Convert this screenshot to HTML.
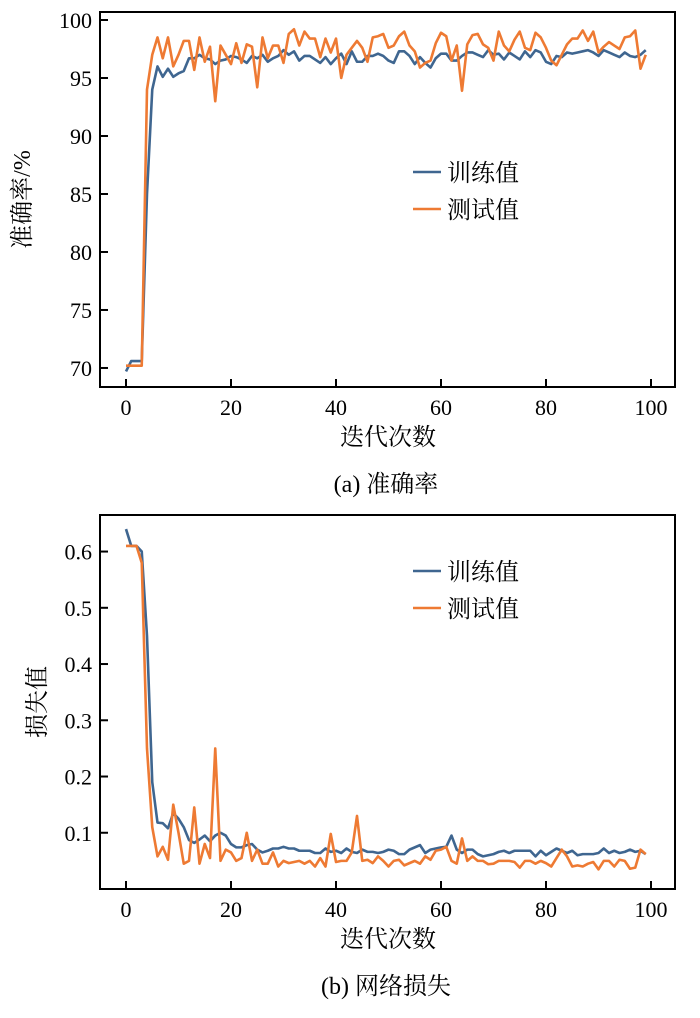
<!DOCTYPE html>
<html><head><meta charset="utf-8"><style>
body{margin:0;background:#fff;}
svg text{font-family:"Liberation Serif","Noto Serif CJK SC","Noto Sans CJK SC",serif;fill:#000;}
</style></head><body>
<svg id="fig" width="700" height="1013" viewBox="0 0 700 1013" xmlns="http://www.w3.org/2000/svg"></svg>
<script>
const epochs = Array.from({length:100},(_,i)=>i);
const trainAcc=[69.7,70.6,70.6,70.6,85,94,96,95.1,95.8,95.1,95.4,95.6,96.7,96.7,97,96.7,96.6,96.2,96.5,96.6,96.9,96.8,96.6,96.3,96.9,96.7,97,96.4,96.7,96.9,97.4,97,97.3,96.5,96.9,96.9,96.6,96.3,96.8,96.2,96.7,97.1,96.2,97.3,96.4,96.4,96.9,96.9,97.1,96.9,96.5,96.3,97.3,97.3,96.9,96.2,96.8,96.3,95.9,96.7,97.1,97.1,96.5,96.5,96.9,97.2,97.2,97.0,96.8,97.4,97.0,97.1,96.6,97.2,96.9,96.6,97.3,96.8,97.4,97.2,96.4,96.2,96.9,96.8,97.2,97.1,97.2,97.3,97.4,97.2,96.9,97.4,97.2,97.0,96.8,97.2,96.9,96.8,97.0,97.4];
const testAcc=[70.2,70.2,70.2,70.2,94,97,98.5,96.7,98.5,96,97,98.2,98.2,95.7,98.5,96.4,97.7,93,97.8,97,96.2,98,96.3,97.9,97.7,94.2,98.5,96.7,97.8,97.8,96.3,98.8,99.2,97.8,99,98.4,98.4,96.8,98.4,97.2,98.4,95,97,97.6,98.2,97.6,96.4,98.5,98.6,98.8,97.6,97.8,98.6,99,97.8,97.3,95.9,96.3,96.5,98,98.9,98.6,96.5,97.8,93.9,97.9,98.7,98.8,97.9,97.6,96.5,99,97.8,97.3,98.3,99,97.6,97.4,98.9,98.5,97.6,96.5,96.1,97,97.9,98.4,98.4,99.1,98.2,99,97.2,97.7,98.1,97.8,97.5,98.5,98.6,99.1,95.8,97];
const trainLoss=[0.64,0.61,0.61,0.6,0.45,0.19,0.118,0.117,0.108,0.135,0.125,0.11,0.087,0.082,0.088,0.095,0.085,0.095,0.1,0.095,0.08,0.074,0.074,0.078,0.08,0.07,0.065,0.068,0.072,0.072,0.075,0.072,0.072,0.068,0.068,0.068,0.064,0.064,0.072,0.066,0.068,0.064,0.072,0.066,0.064,0.07,0.066,0.066,0.064,0.066,0.07,0.068,0.062,0.062,0.07,0.074,0.078,0.064,0.07,0.072,0.074,0.075,0.095,0.07,0.064,0.07,0.07,0.062,0.058,0.06,0.062,0.066,0.068,0.064,0.068,0.068,0.068,0.068,0.058,0.068,0.06,0.066,0.072,0.068,0.064,0.068,0.06,0.062,0.062,0.062,0.064,0.072,0.064,0.068,0.064,0.066,0.07,0.066,0.068,0.062];
const testLoss=[0.61,0.61,0.61,0.58,0.25,0.11,0.058,0.075,0.052,0.15,0.1,0.045,0.05,0.145,0.045,0.08,0.055,0.25,0.05,0.07,0.065,0.05,0.055,0.1,0.05,0.07,0.045,0.045,0.065,0.04,0.05,0.046,0.048,0.05,0.045,0.05,0.04,0.055,0.04,0.098,0.048,0.05,0.05,0.065,0.13,0.05,0.052,0.046,0.058,0.05,0.04,0.05,0.052,0.042,0.046,0.05,0.045,0.058,0.052,0.068,0.07,0.075,0.05,0.045,0.09,0.05,0.058,0.05,0.05,0.044,0.045,0.05,0.05,0.05,0.048,0.038,0.05,0.05,0.045,0.05,0.046,0.04,0.055,0.07,0.058,0.04,0.042,0.04,0.045,0.048,0.035,0.05,0.05,0.04,0.052,0.05,0.036,0.038,0.07,0.062];
const xTicks=[0,20,40,60,80,100];
const accTicks=[70,75,80,85,90,95,100];
const lossTicks=[0.1,0.2,0.3,0.4,0.5,0.6];
const lossTickLabels=["0.1","0.2","0.3","0.4","0.5","0.6"];
const NS="http://www.w3.org/2000/svg";
const svg=document.getElementById('fig');
function mk(tag,attrs,parent){const e=document.createElementNS(NS,tag);for(const k in attrs)e.setAttribute(k,attrs[k]);(parent||svg).appendChild(e);return e;}
const BLUE="#3f6690", ORANGE="#ee7a33";
function panel(cfg){
  const g=mk('g',{});
  
  
  const L=100,R=675,T=cfg.top,B=cfg.bottom;
  const xs=v=>126+v*5.25;
  const ys=v=>B-(v-cfg.ymin)/(cfg.ymax-cfg.ymin)*(B-T);
  const frame=mk('rect',{x:L,y:T,width:R-L,height:B-T,fill:'none',stroke:'#000','stroke-width':2},g);
  
  
  xTicks.forEach(t=>{
    const x=xs(t);
    const tk=mk('line',{x1:x,x2:x,y1:B,y2:B-8,stroke:'#000','stroke-width':2},g);
    
    
    const tx=mk('text',{x:x,y:B+28,'text-anchor':'middle','font-size':22},g);
    tx.textContent=t;
    
    
  });
  cfg.ticks.forEach((t,i)=>{
    const y=ys(t);
    const tk=mk('line',{x1:L,x2:L+8,y1:y,y2:y,stroke:'#000','stroke-width':2},g);
    
    
    const tx=mk('text',{x:L-8,y:y+8,'text-anchor':'end','font-size':22},g);
    tx.textContent=cfg.labels[i];
    
    
  });
  [[cfg.train,BLUE,'train-line'],[cfg.test,ORANGE,'test-line']].forEach(([d,c,n])=>{
    const p=mk('polyline',{points:d.map((v,i)=>xs(epochs[i])+','+ys(v)).join(' '),fill:'none',stroke:c,'stroke-width':2.6,'stroke-linejoin':'round'},g);
    
    
  });
  [[BLUE,'训练值',cfg.leg],[ORANGE,'测试值',cfg.leg+37]].forEach(([c,s,y],i)=>{
    const lg=mk('g',{},g);
    
    
    mk('line',{x1:413,x2:441,y1:y,y2:y,stroke:c,'stroke-width':2.6},lg);
    const tx=mk('text',{x:447,y:y+9,'font-size':24},lg);tx.textContent=s;
  });
  const xl=mk('text',{x:388,y:B+58,'text-anchor':'middle','font-size':24},g);
  xl.textContent='迭代次数';
  
  
  const yl=mk('text',{x:0,y:0,'text-anchor':'middle','font-size':24,transform:`translate(${cfg.ylx},${(T+B)/2}) rotate(-90)`},g);
  yl.textContent=cfg.ytitle;
  
  
  const cap=mk('text',{x:386,y:B+105,'text-anchor':'middle','font-size':24},g);
  cap.textContent=cfg.caption;
  
  
}
panel({name:'accuracy-chart',top:12,bottom:387,ymin:68.36,ymax:100.69,ticks:accTicks,labels:accTicks.map(String),train:trainAcc,test:testAcc,leg:172,ytitle:'准确率/%',ylx:30,caption:'(a) 准确率'});
panel({name:'loss-chart',top:515,bottom:889,ymin:0,ymax:0.665,ticks:lossTicks,labels:lossTickLabels,train:trainLoss,test:testLoss,leg:571,ytitle:'损失值',ylx:45,caption:'(b) 网络损失'});
</script>
</body></html>
